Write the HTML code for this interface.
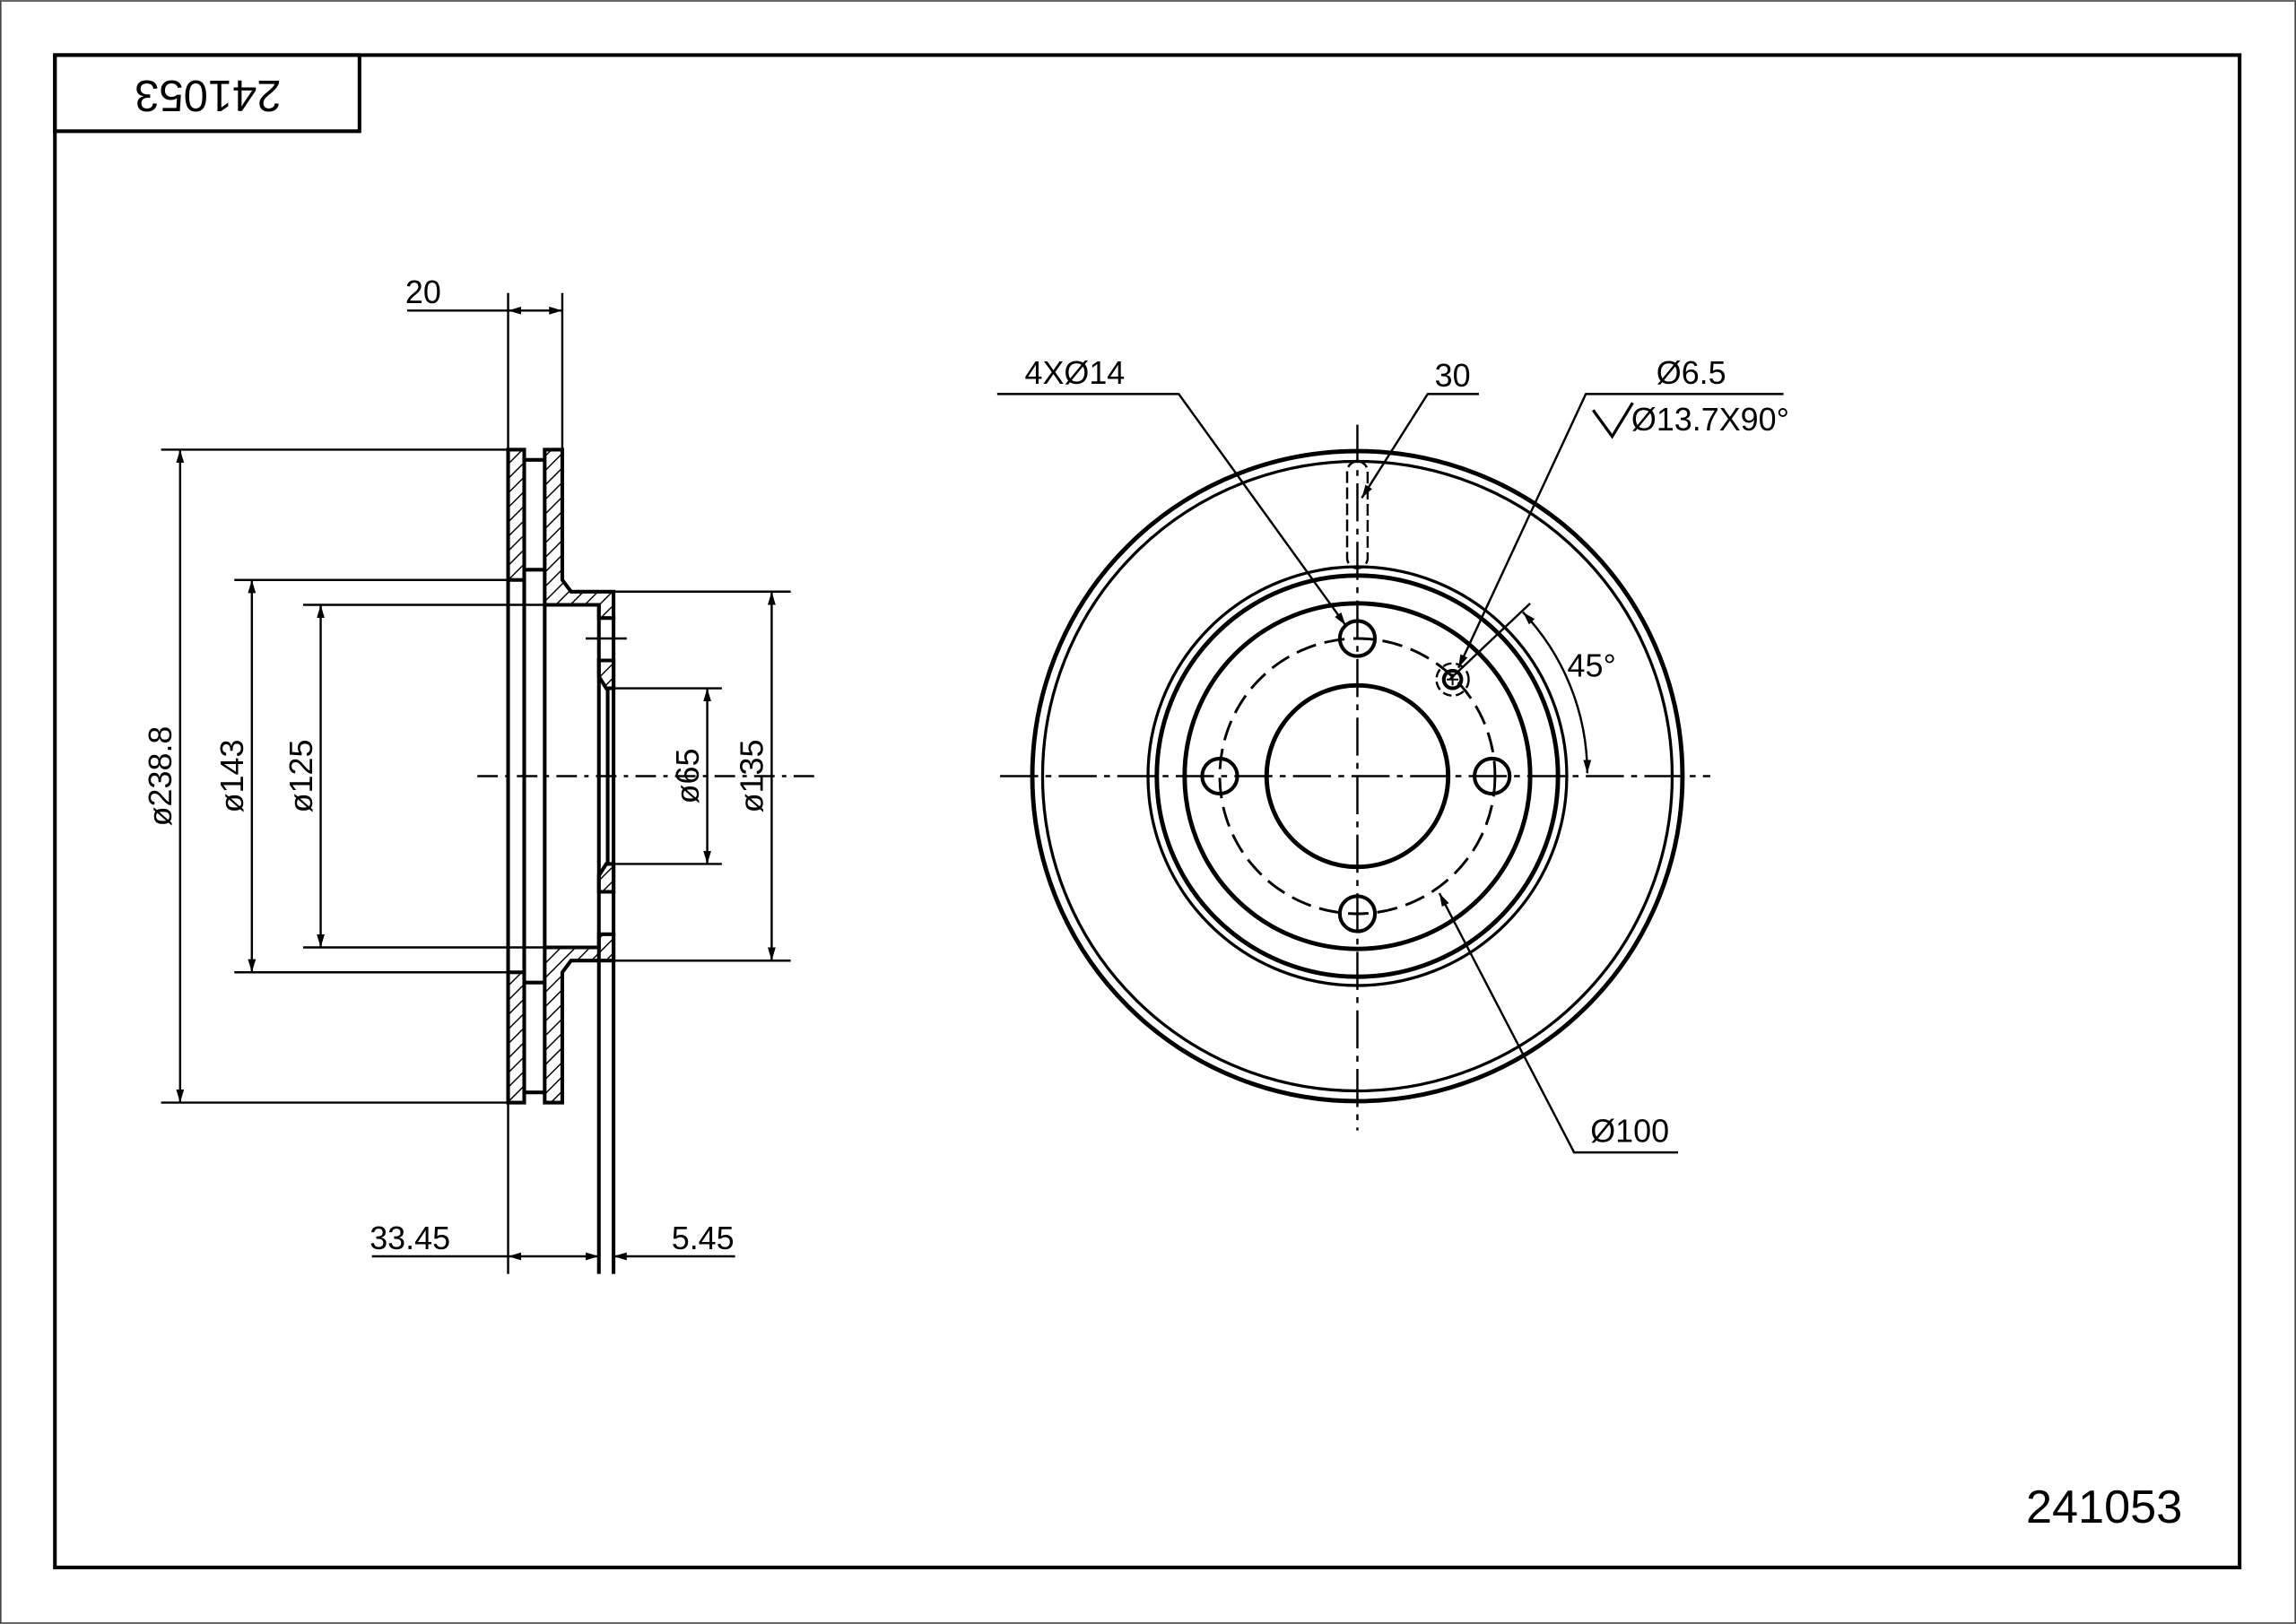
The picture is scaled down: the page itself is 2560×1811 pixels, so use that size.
<!DOCTYPE html>
<html><head><style>html,body{margin:0;padding:0;background:#fff}svg{display:block}</style></head><body>
<svg width="2560" height="1811" viewBox="0 0 1568 1109" xmlns="http://www.w3.org/2000/svg" font-family="Liberation Sans, sans-serif">
<defs>
<pattern id="h" width="7" height="7" patternUnits="userSpaceOnUse" patternTransform="rotate(45)">
<rect width="7" height="7" fill="#fff"/><line x1="0" y1="0" x2="0" y2="7" stroke="#000" stroke-width="1.8"/></pattern>
<marker id="a" viewBox="0 0 10 10" refX="10" refY="5" markerWidth="9" markerHeight="9" orient="auto-start-reverse" markerUnits="userSpaceOnUse"><path d="M0,2 L10,5 L0,8 z" fill="#000"/></marker>
</defs>
<rect x="0" y="0" width="1568" height="1109" fill="#fff"/>
<rect x="0.5" y="0.5" width="1567" height="1108" fill="none" stroke="#444" stroke-width="1"/>
<rect x="37.5" y="37.5" width="1492" height="1033" fill="none" stroke="#000" stroke-width="2.5"/>
<rect x="37.5" y="37.5" width="208" height="52" fill="none" stroke="#000" stroke-width="2.5"/>
<text x="142" y="63" font-size="30" text-anchor="middle" transform="rotate(180 142 63)" dominant-baseline="middle">241053</text>
<text x="1437" y="1040" font-size="32" text-anchor="middle">241053</text>

<g stroke="#000" fill="none">
<line x1="326" y1="530" x2="560" y2="530" stroke-width="1.5" stroke-dasharray="14,5,3,5"/>
<g stroke-width="2.5">
<rect x="347" y="307" width="11" height="89" fill="url(#h)"/>
<rect x="347" y="664" width="11" height="89" fill="url(#h)"/>
<path d="M372,307 H384 V396 L390,404 H419 V422 H409 V413 H372 Z" fill="url(#h)"/>
<path d="M372,753 H384 V664 L390,656 H419 V638 H409 V647 H372 Z" fill="url(#h)"/>
<path d="M409,451 H419 V470 L414,470 L409,462 Z" fill="url(#h)"/>
<path d="M409,609 H419 V590 L414,590 L409,598 Z" fill="url(#h)"/>
<line x1="347" y1="396" x2="347" y2="664"/><line x1="358" y1="396" x2="358" y2="664"/>
<line x1="372" y1="413" x2="372" y2="647"/><line x1="409" y1="413" x2="409" y2="870"/>
<line x1="419" y1="422" x2="419" y2="870"/><line x1="415" y1="470" x2="415" y2="590"/>
<line x1="358" y1="314" x2="372" y2="314"/><line x1="358" y1="389" x2="372" y2="389"/>
<line x1="358" y1="746" x2="372" y2="746"/><line x1="358" y1="671" x2="372" y2="671"/>
</g>
<g stroke-width="1.5">
<line x1="160" y1="396" x2="347" y2="396"/><line x1="160" y1="664" x2="347" y2="664"/>
<line x1="207" y1="413" x2="372" y2="413"/><line x1="207" y1="647" x2="372" y2="647"/>
<line x1="110" y1="307" x2="347" y2="307"/><line x1="110" y1="753" x2="347" y2="753"/>
<line x1="419" y1="404" x2="540" y2="404"/><line x1="419" y1="656" x2="540" y2="656"/>
<line x1="419" y1="470" x2="493" y2="470"/><line x1="419" y1="590" x2="493" y2="590"/>
<line x1="400" y1="436" x2="428" y2="436"/>
<line x1="123" y1="307" x2="123" y2="753" marker-start="url(#a)" marker-end="url(#a)"/>
<line x1="172" y1="396" x2="172" y2="664" marker-start="url(#a)" marker-end="url(#a)"/>
<line x1="219" y1="413" x2="219" y2="647" marker-start="url(#a)" marker-end="url(#a)"/>
<line x1="483" y1="470" x2="483" y2="590" marker-start="url(#a)" marker-end="url(#a)"/>
<line x1="527" y1="404" x2="527" y2="656" marker-start="url(#a)" marker-end="url(#a)"/>
<line x1="347" y1="200" x2="347" y2="307"/><line x1="384" y1="200" x2="384" y2="307"/>
<line x1="278" y1="212" x2="347" y2="212"/>
<line x1="347" y1="212" x2="384" y2="212" marker-start="url(#a)" marker-end="url(#a)"/>
<line x1="347" y1="753" x2="347" y2="870"/>
<line x1="254" y1="858" x2="347" y2="858"/>
<line x1="347" y1="858" x2="409" y2="858" marker-start="url(#a)" marker-end="url(#a)"/>
<line x1="419" y1="858" x2="502" y2="858" marker-start="url(#a)"/>
</g>

<g stroke-width="1.5" stroke-dasharray="26,5,4,5">
<line x1="683" y1="530" x2="1168" y2="530"/><line x1="927" y1="290" x2="927" y2="772"/>
</g>
<circle cx="927" cy="530" r="222" stroke-width="3"/>
<circle cx="927" cy="530" r="215" stroke-width="2"/>
<circle cx="927" cy="530" r="143" stroke-width="2"/>
<circle cx="927" cy="530" r="137" stroke-width="3"/>
<circle cx="927" cy="530" r="118" stroke-width="3"/>
<circle cx="927" cy="530" r="94" stroke-width="1.8" stroke-dasharray="14,6"/>
<circle cx="927" cy="530" r="62" stroke-width="3"/>
<g stroke-width="2.5">
<circle cx="927" cy="436" r="12"/><circle cx="833" cy="530" r="12"/>
<circle cx="1019" cy="530" r="12"/><circle cx="927" cy="624" r="12"/>
<circle cx="992" cy="464" r="6"/>
</g>
<circle cx="992" cy="464" r="11" stroke-width="1.5" stroke-dasharray="6,3"/>
<path d="M988,464 h8 M992,460 v8" stroke-width="1.2"/>
<rect x="920" y="315" width="14" height="73" rx="7" stroke-width="1.5" stroke-dasharray="8,3"/>
<g stroke-width="1.5">
<polyline points="681,269 805,269 919,427" marker-end="url(#a)"/>
<polyline points="1010,269 975,269 930,340" marker-end="url(#a)"/>
<polyline points="1218,269 1083,269 996,456" marker-end="url(#a)"/>
<polyline points="1146,787 1075,787 983,610" marker-end="url(#a)"/>
<line x1="990" y1="464" x2="1045" y2="412"/>
<path d="M1040,418 A160,160 0 0 1 1084,528" marker-start="url(#a)" marker-end="url(#a)"/>
<path d="M1088,280 L1101,298 L1115,275" stroke-width="2"/>
</g>
</g>
<g font-size="22" fill="#000">
<text x="289" y="207" text-anchor="middle">20</text>
<text x="280" y="853" text-anchor="middle">33.45</text>
<text x="480" y="853" text-anchor="middle">5.45</text>
<text transform="translate(117,530) rotate(-90)" text-anchor="middle">ø238.8</text>
<text transform="translate(166,530) rotate(-90)" text-anchor="middle">ø143</text>
<text transform="translate(213,530) rotate(-90)" text-anchor="middle">ø125</text>
<text transform="translate(477,530) rotate(-90)" text-anchor="middle">ø65</text>
<text transform="translate(521,530) rotate(-90)" text-anchor="middle">ø135</text>
<text x="734" y="262" text-anchor="middle">4XØ14</text>
<text x="992" y="264" text-anchor="middle">30</text>
<text x="1155" y="262" text-anchor="middle">Ø6.5</text>
<text x="1168" y="294" text-anchor="middle">Ø13.7X90°</text>
<text x="1087" y="462" text-anchor="middle">45°</text>
<text x="1113" y="780" text-anchor="middle">Ø100</text>
</g>
</svg>
</body></html>
